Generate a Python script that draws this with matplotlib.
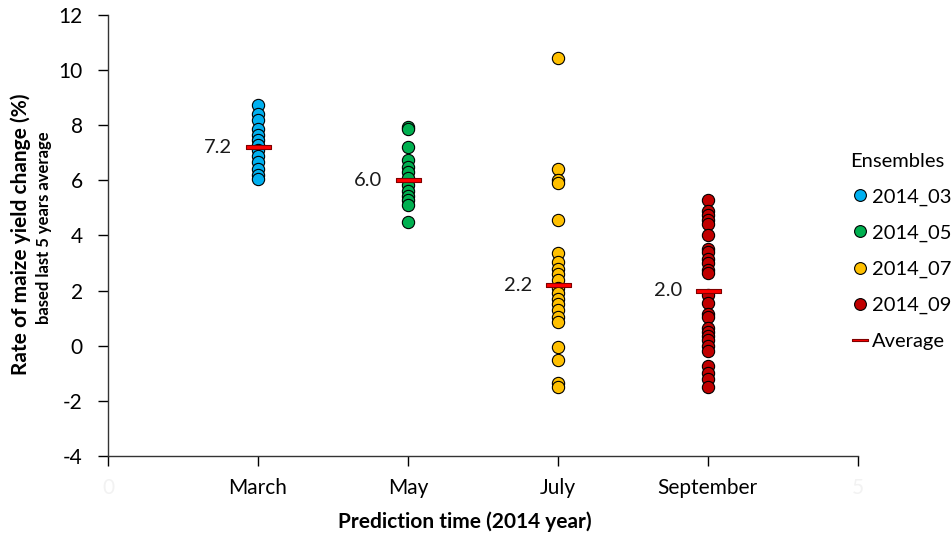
import matplotlib
matplotlib.use("Agg")
import matplotlib.pyplot as plt
from matplotlib.lines import Line2D

plt.rcParams['font.family'] = ['Lato', 'DejaVu Sans']
plt.rcParams['axes.unicode_minus'] = False

months = ["March", "May", "July", "September"]
ensembles = ["2014_03", "2014_05", "2014_07", "2014_09"]
colors = ["#00b0f0", "#00b050", "#ffc000", "#c00000"]

march = [8.75, 8.4, 8.2, 7.85, 7.65, 7.45, 7.3, 7.1, 6.9, 6.65, 6.4, 6.2, 6.05]
may = [7.95, 7.85, 7.2, 6.75, 6.5, 6.3, 6.1, 5.85, 5.6, 5.45, 5.3, 5.1, 4.5]
july = [10.45, 6.4, 6.0, 5.9, 4.55, 3.35, 3.05, 2.8, 2.6, 2.4, 2.1, 1.9, 1.7,
        1.5, 1.3, 1.05, 0.85, -0.05, -0.5, -1.35, -1.5]
september = [5.3, 4.9, 4.75, 4.55, 4.4, 4.0, 3.5, 3.4, 3.15, 3.0, 2.75, 2.65,
             1.85, 1.55, 1.15, 1.05, 0.65, 0.5, 0.35, 0.2, 0.0, -0.2, -0.75,
             -1.0, -1.2, -1.5]
series = [march, may, july, september]
averages = [7.2, 6.0, 2.2, 2.0]

fig = plt.figure(figsize=(9.53, 5.40), dpi=100)
ax = fig.add_axes([0.1133, 0.1556, 0.7867, 0.8166])

for i, (vals, col) in enumerate(zip(series, colors)):
    xs = [i + 1] * len(vals)
    ax.scatter(xs, vals, s=78, color=col, edgecolor="black", linewidth=0.8,
               zorder=3)

# average bars
bar_marker = [(-5, -0.9), (5, -0.9), (5, 0.9), (-5, 0.9), (-5, -0.9)]
for i, avg in enumerate(averages):
    ax.plot(i + 1, avg, marker=bar_marker, markersize=18, color="#ff0000",
            markeredgecolor="#800000", markeredgewidth=0.8, linestyle="none",
            zorder=4)
    ax.text(i + 1 - 0.17, avg, f"{avg:.1f}", ha="right", va="center",
            fontsize=14.5, color="#1a1a1a", zorder=5)

ax.set_xlim(0, 5)
ax.set_ylim(-4, 12)
ax.set_xticks([0, 1, 2, 3, 4, 5])
ax.set_xticklabels(["0"] + months + ["5"], fontsize=15)
for lbl in (ax.get_xticklabels()[0], ax.get_xticklabels()[-1]):
    lbl.set_color("#f2f2f2")
ax.set_yticks(range(-4, 13, 2))
ax.tick_params(axis="y", labelsize=15, direction="out", length=7, width=1,
               pad=11)
ax.tick_params(axis="x", direction="out", length=7, width=1, pad=9)
ax.spines["top"].set_visible(False)
ax.spines["right"].set_visible(False)
for sp in ("left", "bottom"):
    ax.spines[sp].set_linewidth(1)
    ax.spines[sp].set_color("#333333")

fig.text(0.488, 0.033, "Prediction time (2014 year)", ha="center",
         va="center", fontsize=15, fontweight="bold")
fig.text(0.0215, 0.566, "Rate of maize yield change (%)", rotation=90,
         ha="center", va="center", fontsize=15, fontweight="bold")
fig.text(0.046, 0.578, "based last 5 years average", rotation=90,
         ha="center", va="center", fontsize=12, fontweight="bold")

handles = [Line2D([], [], marker="o", linestyle="none", markersize=8.5,
                  markerfacecolor=c, markeredgecolor="black",
                  markeredgewidth=0.8) for c in colors]
handles.append(Line2D([], [], marker=bar_marker, linestyle="none",
                      markersize=11, markerfacecolor="#ff0000",
                      markeredgecolor="#800000", markeredgewidth=0.8))
leg = fig.legend(handles, ensembles + ["Average"], title="Ensembles",
                 loc="upper left", bbox_to_anchor=(0.8835, 0.7324),
                 frameon=False, fontsize=14.5, title_fontsize=14.5,
                 labelspacing=0.93, handletextpad=0.1, handlelength=1.0,
                 borderaxespad=0)
leg._legend_box.align = "left"

fig.savefig("out.png", dpi=100)
